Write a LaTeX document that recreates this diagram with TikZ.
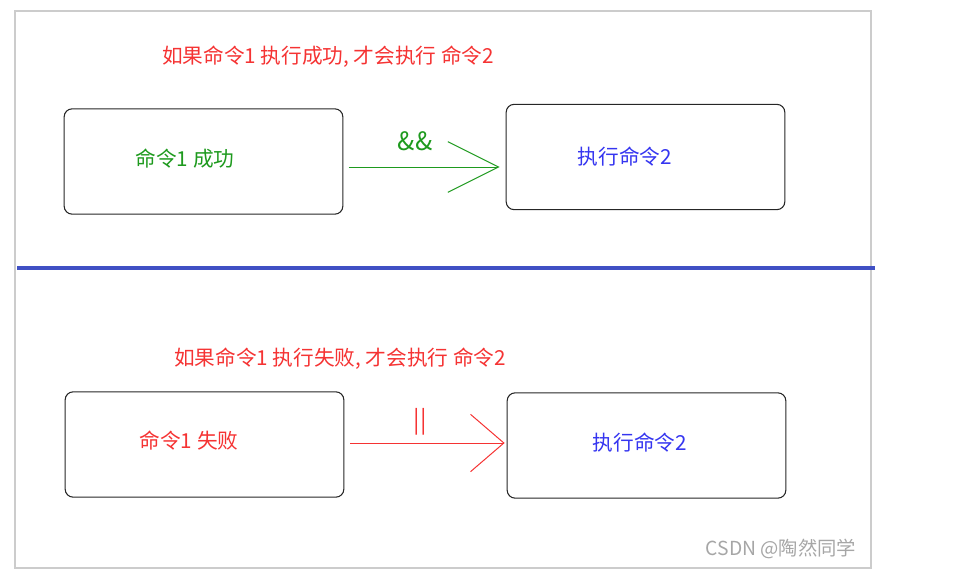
\documentclass[tikz,border=0pt]{standalone}
\usepackage{fontspec}
\setmainfont{Noto Sans CJK SC}
\usetikzlibrary{arrows.meta}
\definecolor{cmdred}{HTML}{F53333}
\definecolor{cmdgreen}{HTML}{1E9A1E}
\definecolor{cmdblue}{HTML}{3535F0}
\definecolor{splitblue}{HTML}{4050C4}
\tikzset{
  cmdbox/.style={draw=black!85,line width=0.8pt,rounded corners=6pt,
    minimum width=209pt,minimum height=79pt,inner sep=0pt},
  txt/.style={font=\fontsize{15.5}{18}\selectfont},
}
\begin{document}
\begin{tikzpicture}[x=0.75pt,y=-0.75pt]
\useasboundingbox (0,0) rectangle (980,581);
\draw[black!20,line width=0.8pt] (15,11) rectangle (871,568);

% upper half: &&
\node[txt,text=cmdred] (head1) at (328,57) {如果命令1 执行成功, 才会执行 命令2};
\node[cmdbox] (ok) at (203.5,161.5) {};
\node[cmdbox] (run1) at (645.5,157) {};
\node[txt,text=cmdgreen] (oklbl) at (185,159) {命令1 成功};
\node[txt,text=cmdblue] (run1lbl) at (625,157) {执行命令2};
\draw[cmdgreen,line width=0.75pt,shorten <=4pt,shorten >=4.5pt,
  -{Straight Barb[length=38pt,width=38pt,line width=0.75pt]}]
  (ok.east |- 0,167) -- (run1.west |- 0,167);
\node[txt,text=cmdgreen,font=\fontsize{19}{22}\selectfont] (andop) at (415,141) {\&\&};

% dividing line
\draw[splitblue,line width=3pt] (17,268) -- (875,268);

% lower half: ||
\node[txt,text=cmdred] (head2) at (340,359) {如果命令1 执行失败, 才会执行 命令2};
\node[cmdbox] (fail) at (204.5,444.5) {};
\node[cmdbox] (run2) at (646.5,445.5) {};
\node[txt,text=cmdred] (faillbl) at (189,441) {命令1 失败};
\node[txt,text=cmdblue] (run2lbl) at (640,443) {执行命令2};
\draw[cmdred,line width=0.75pt,shorten <=4.5pt,shorten >=1.5pt,
  -{Straight Barb[length=25pt,width=43pt,line width=0.75pt]}]
  (fail.east |- 0,443) -- (run2.west |- 0,443);
\node[txt,text=cmdred,font=\fontsize{18}{22}\selectfont] (orop) at (420,422) {||};

\node[txt,text=black!35,font=\fontsize{14.5}{17}\selectfont] (mark) at (781,549) {CSDN @陶然同学};
\end{tikzpicture}
\end{document}
